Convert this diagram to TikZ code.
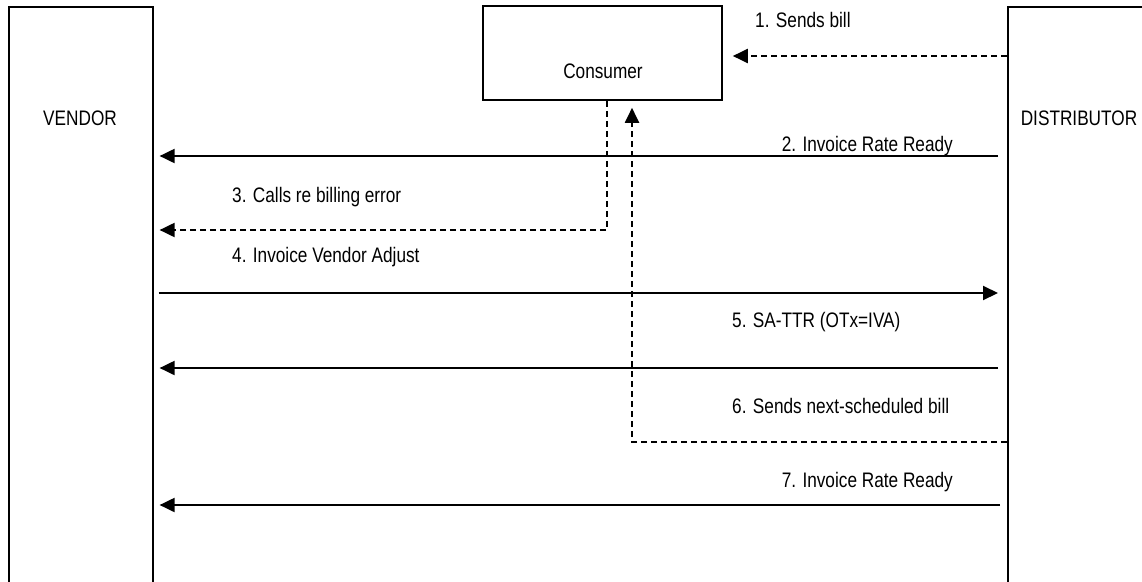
\documentclass[tikz,border=0pt]{standalone}
\usepackage{fontspec}
\setmainfont{Liberation Sans}[FakeStretch=0.82]
\usetikzlibrary{arrows.meta}
\tikzset{
  box/.style={draw=black, line width=1.6pt, fill=none, inner sep=0pt},
  lbl/.style={inner sep=0pt, font=\fontsize{21}{24}\selectfont},
  msg/.style={line width=2pt, -{Triangle[length=15pt,width=14pt]}},
  dmsg/.style={msg, dash pattern=on 6pt off 4pt},
}
\begin{document}
\begin{tikzpicture}[x=1pt,y=-1pt]
\useasboundingbox (0,0) rectangle (1142,581);
\clip (0,0) rectangle (1142,581);
% participants
\node[box, anchor=north west, minimum width=144pt, minimum height=700pt] (vendor) at (8,6) {};
\node[box, anchor=north west, minimum width=144pt, minimum height=700pt] (distributor) at (1007,6) {};
\node[box, minimum width=239pt, minimum height=94pt] (consumer) at (602.5,53) {};
\node[lbl, anchor=base] (vendortxt) at (80,125) {VENDOR};
\node[lbl, anchor=base] (distributortxt) at (1079,125) {DISTRIBUTOR};
\node[lbl, anchor=base] (consumertxt) at (603,78) {Consumer};
% 1
\draw[dmsg, shorten >=10pt] (distributor.west |- 0,56) -- (consumer.east |- 0,56);
\node[lbl, anchor=base west] (l1) at (755,27) {1. Sends bill};
% 2
\draw[msg, shorten <=9pt, shorten >=6pt] (distributor.west |- 0,156) -- (vendor.east |- 0,156);
\node[lbl, anchor=base east] (l2) at (953,151) {2. Invoice Rate Ready};
% 3
\draw[dmsg, shorten >=6pt] ([xshift=4.5pt]consumer.south) |- (vendor.east |- 0,230);
\node[lbl, anchor=base west] (l3) at (232,202) {3. Calls re billing error};
% 4
\draw[msg, shorten <=5pt, shorten >=9pt] (vendor.east |- 0,293) -- (distributor.west |- 0,293);
\node[lbl, anchor=base west] (l4) at (232,262) {4. Invoice Vendor Adjust};
% 5
\draw[msg, shorten <=9pt, shorten >=6pt] (distributor.west |- 0,368) -- (vendor.east |- 0,368);
\node[lbl, anchor=base west] (l5) at (732,327) {5. SA-TTR (OTx=IVA)};
% 6
\draw[dmsg, shorten >=7pt] (distributor.west |- 0,442) -| ([xshift=29.5pt]consumer.south);
\node[lbl, anchor=base west] (l6) at (732,413) {6. Sends next-scheduled bill};
% 7
\draw[msg, shorten <=7pt, shorten >=6pt] (distributor.west |- 0,505) -- (vendor.east |- 0,505);
\node[lbl, anchor=base east] (l7) at (953,487) {7. Invoice Rate Ready};
\end{tikzpicture}
\end{document}
